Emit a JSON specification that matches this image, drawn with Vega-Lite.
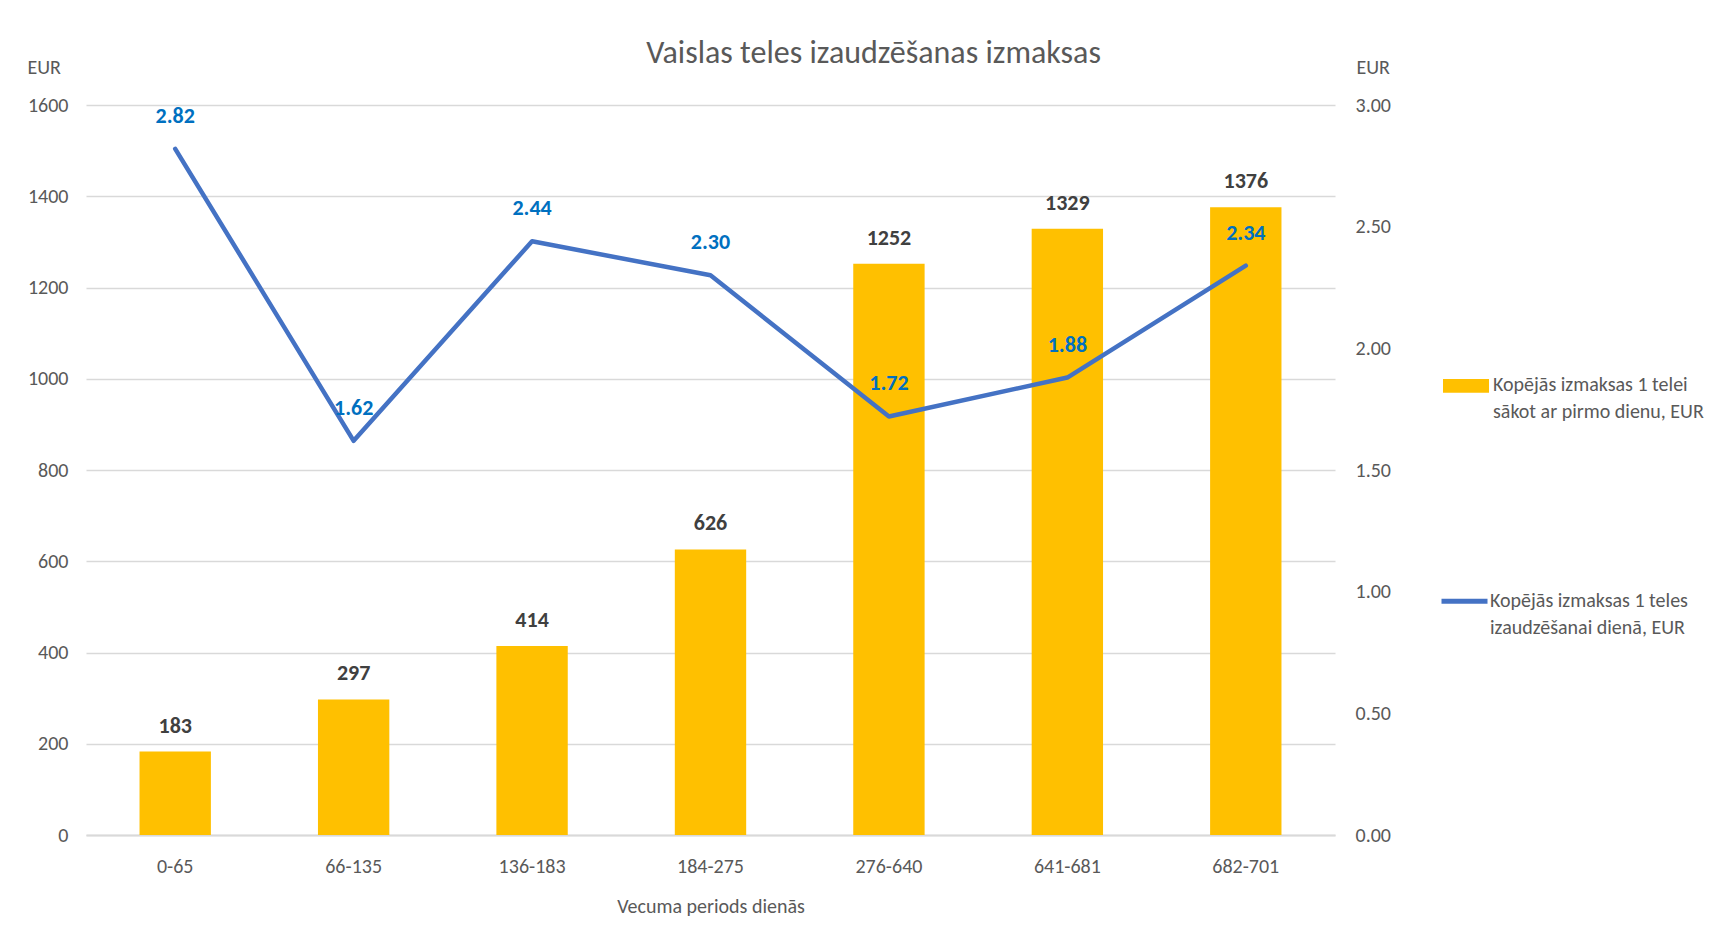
{
  "$schema": "https://vega.github.io/schema/vega-lite/v6.json",
  "autosize": "none",
  "width": 1249,
  "height": 730,
  "padding": {"left": 86, "top": 105, "right": 388, "bottom": 111},
  "background": "white",
  "config": {
    "font": "Liberation Sans Narrow, Carlito, Lato, sans-serif",
    "view": {"stroke": null},
    "style": {"guide-label": {"lineHeight": 27}},
    "axis": {"labelColor": "#595959", "titleColor": "#595959", "labelFontSize": 20, "titleFontSize": 20, "titleFontWeight": "normal", "labelFont": "Liberation Sans Narrow, Carlito, Lato, sans-serif", "titleFont": "Liberation Sans Narrow, Carlito, Lato, sans-serif"},
    "legend": {"labelColor": "#595959", "labelFontSize": 20, "labelFont": "Liberation Sans Narrow, Carlito, Lato, sans-serif"}
  },
  "title": {
    "text": "Vaislas teles izaudzēšanas izmaksas",
    "fontSize": 32,
    "fontWeight": "normal",
    "color": "#595959",
    "anchor": "middle",
    "frame": "group",
    "dx": 163,
    "offset": -13
  },
  "data": {
    "values": [
      {"period": "0-65", "total": 183, "daily": 2.82},
      {"period": "66-135", "total": 297, "daily": 1.62},
      {"period": "136-183", "total": 414, "daily": 2.44},
      {"period": "184-275", "total": 626, "daily": 2.30},
      {"period": "276-640", "total": 1252, "daily": 1.72},
      {"period": "641-681", "total": 1329, "daily": 1.88},
      {"period": "682-701", "total": 1376, "daily": 2.34}
    ]
  },
  "encoding": {
    "x": {
      "field": "period",
      "type": "nominal",
      "sort": null,
      "scale": {"paddingInner": 0.6, "paddingOuter": 0.3},
      "axis": {
        "title": "Vecuma periods dienās",
        "labelAngle": 0,
        "ticks": false,
        "domainColor": "#D9D9D9",
        "domainWidth": 2,
        "labelPadding": 21,
        "titlePadding": 20
      }
    }
  },
  "layer": [
    {
      "encoding": {
        "y": {
          "field": "total",
          "type": "quantitative",
          "scale": {"domain": [0, 1600], "nice": false},
          "axis": {
            "title": "EUR",
            "titleAngle": 0,
            "titleX": -59,
            "titleY": -38,
            "titleAlign": "left",
            "titleBaseline": "middle",
            "values": [0, 200, 400, 600, 800, 1000, 1200, 1400, 1600],
            "format": "d",
            "domain": false,
            "ticks": false,
            "labelPadding": 18,
            "gridColor": "#D9D9D9",
            "gridWidth": 1.5
          }
        }
      },
      "layer": [
        {
          "mark": {"type": "bar", "color": "#FFC000"},
          "encoding": {
            "color": {
              "datum": "Kopējās izmaksas 1 telei sākot ar pirmo dienu, EUR",
              "scale": {"range": ["#FFC000"]},
              "legend": {
                "title": null,
                "orient": "none",
                "legendX": 1357,
                "legendY": 247,
                "symbolType": "M-1,0.17H1V0.77H-1Z",
                "symbolSize": 2116,
                "symbolStrokeWidth": 0,
                "labelOffset": 4,
                "labelLimit": 400,
                "labelBaseline": "top",
                "labelExpr": "['Kopējās izmaksas 1 telei', 'sākot ar pirmo dienu, EUR']"
              }
            }
          }
        },
        {
          "mark": {"type": "text", "dy": -26, "fontSize": 22, "fontWeight": "bold", "color": "#404040", "baseline": "middle"},
          "encoding": {"text": {"field": "total", "type": "quantitative", "format": "d"}}
        }
      ]
    },
    {
      "encoding": {
        "y": {
          "field": "daily",
          "type": "quantitative",
          "scale": {"domain": [0, 3], "nice": false},
          "axis": {
            "orient": "right",
            "title": "EUR",
            "titleAngle": 0,
            "titleX": 21,
            "titleY": -38,
            "titleAlign": "left",
            "titleBaseline": "middle",
            "values": [0, 0.5, 1, 1.5, 2, 2.5, 3],
            "format": ".2f",
            "domain": false,
            "ticks": false,
            "grid": false,
            "labelPadding": 20
          }
        }
      },
      "layer": [
        {
          "mark": {"type": "line", "strokeWidth": 4.5, "strokeCap": "round", "strokeJoin": "round"},
          "encoding": {
            "stroke": {
              "datum": "Kopējās izmaksas 1 teles izaudzēšanai dienā, EUR",
              "scale": {"range": ["#4472C4"]},
              "legend": {
                "title": null,
                "orient": "none",
                "legendX": 1353,
                "legendY": 460,
                "symbolType": "M-1,0.47H1",
                "symbolSize": 2116,
                "symbolStrokeWidth": 5,
                "labelOffset": 0,
                "labelLimit": 400,
                "labelBaseline": "top",
                "labelExpr": "['Kopējās izmaksas 1 teles', 'izaudzēšanai dienā, EUR']"
              }
            }
          }
        },
        {
          "mark": {"type": "text", "dy": -33, "fontSize": 22, "fontWeight": "bold", "color": "#0070C0", "baseline": "middle"},
          "encoding": {"text": {"field": "daily", "type": "quantitative", "format": ".2f"}}
        }
      ]
    }
  ],
  "resolve": {"scale": {"y": "independent", "color": "independent", "stroke": "independent"}}
}
